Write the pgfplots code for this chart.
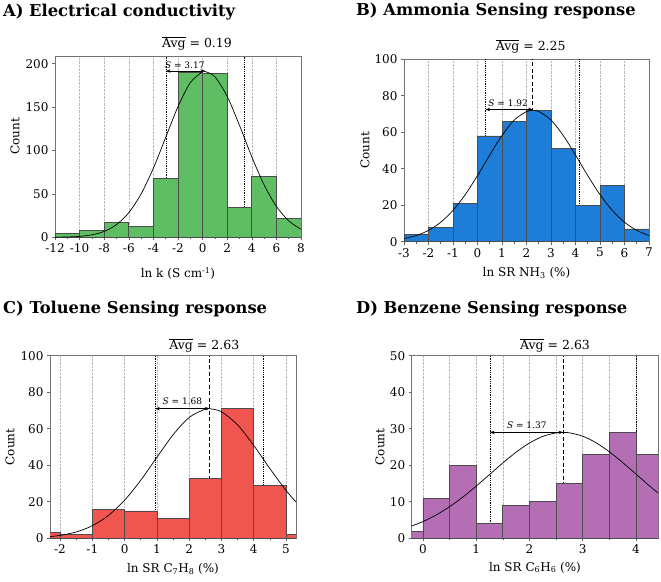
\documentclass[border=0pt]{standalone}
\usepackage{fontspec}
\setmainfont{DejaVu Serif}
\usepackage{pgfplots}
\pgfplotsset{compat=1.18}
\usetikzlibrary{arrows.meta}
\definecolor{cgreen}{RGB}{95,190,100}
\definecolor{cblue}{RGB}{30,125,215}
\definecolor{cred}{RGB}{240,85,80}
\definecolor{cpurple}{RGB}{180,110,180}
\pgfplotsset{
  hist/.style={
    scale only axis,
    clip mode=individual,
    axis line style={black!55, line width=0.8pt},
    tick align=outside, tick pos=left,
    major tick length=3pt, minor tick length=1.8pt,
    tick style={black!60, line width=0.6pt},
    ymin=0,
    xmajorgrids,
    major grid style={densely dotted, black!28, line width=0.5pt},
    minor grid style={densely dotted, black!28, line width=0.5pt},
    ticklabel style={font=\fontsize{12}{12}\selectfont},
    label style={font=\fontsize{12}{12}\selectfont},
    /pgf/number format/assume math mode=true,
    ylabel={Count},
  },
  bars/.style={ybar interval, draw=black!70, line width=0.7pt, fill=#1},
  sdot/.style={black, densely dotted, line width=0.8pt},
  mdash/.style={black, dash pattern=on 4pt off 2.5pt, line width=0.8pt},
  fitc/.style={black, smooth, line width=0.7pt},
  sarr/.style={black, line width=0.6pt, {Stealth[length=4.5pt,width=3.5pt]}-{Stealth[length=4.5pt,width=3.5pt]}},
}
\newcommand{\slab}{\fontsize{9}{9}\selectfont}
\newcommand{\avgfont}{\fontsize{12.5}{12.5}\selectfont}
\newcommand{\ttl}{\fontsize{16.3}{16.3}\selectfont\bfseries}
\begin{document}
\begin{tikzpicture}
\path[use as bounding box] (0,0) rectangle (661pt,-581pt);
\node[anchor=base west, font=\ttl, inner sep=0pt] at (3pt,-16pt) {A) Electrical conductivity};
\node[anchor=base west, font=\ttl, inner sep=0pt] at (356pt,-15pt) {B) Ammonia Sensing response};
\node[anchor=base west, font=\ttl, inner sep=0pt] at (3pt,-313pt) {C) Toluene Sensing response};
\node[anchor=base west, font=\ttl, inner sep=0pt] at (356pt,-313pt) {D) Benzene Sensing response};

% ---------- A ----------
\begin{axis}[hist, at={(55pt,-237.3pt)}, anchor=south west,
  width=246pt, height=180.6pt,
  xmin=-12, xmax=8, ymax=208,
  xtick={-12,-10,...,8}, ytick={0,50,...,200}, minor x tick num=1,
  xlabel={ln k (S cm\textsuperscript{-1})},
  ylabel style={at={(axis description cs:-0.163,0.56)}, anchor=center},
  xlabel style={at={(axis description cs:0.5,-0.2)}, anchor=center},
]
\addplot[sdot] coordinates {(-2.98,0) (-2.98,208)};
\addplot[sdot] coordinates {(3.36,0) (3.36,208)};
\addplot[bars=cgreen] coordinates {(-12,4) (-10,8) (-8,17) (-6,13) (-4,68) (-2,190) (0,189) (2,34) (4,70) (6,22) (8,22)};
\addplot[fitc] coordinates {(-12,0.12) (-11,0.38) (-10,1.09) (-9,2.86) (-8,6.79) (-7,14.59) (-6,28.39) (-5,50.0) (-4,79.7) (-3,115.1) (-2,150.5) (-1,178.0) (0,190.7) (0.19,191) (1,184.9) (2,162.3) (3,128.9) (4,92.7) (5,60.4) (6,35.6) (7,19.0) (8,9.18)};
\addplot[sarr] coordinates {(-2.98,191.5) (0.19,191.5)};
\node[anchor=base, font=\slab, yshift=3pt] at (axis cs:-1.45,191.5) {{\itshape S} = 3.17};
\node[anchor=base, font=\avgfont, yshift=9pt] at (axis cs:-0.46,208) {$\overline{\mbox{Avg}}$ = 0.19};
\end{axis}

% ---------- B ----------
\begin{axis}[hist, at={(404pt,-241.7pt)}, anchor=south west,
  width=245pt, height=182.4pt,
  xmin=-3, xmax=7, ymax=100,
  xtick={-3,...,7}, ytick={0,20,...,100}, minor x tick num=1,
  xlabel={ln SR NH\textsubscript{3} (\%)},
  ylabel style={at={(axis description cs:-0.159,0.5)}, anchor=center},
  xlabel style={at={(axis description cs:0.5,-0.173)}, anchor=center},
]
\addplot[sdot] coordinates {(0.33,0) (0.33,100)};
\addplot[sdot] coordinates {(4.17,0) (4.17,100)};
\addplot[mdash] coordinates {(2.25,0) (2.25,100)};
\addplot[bars=cblue] coordinates {(-3,4) (-2,8) (-1,21) (0,58) (1,66) (2,72) (3,51) (4,20) (5,31) (6,7) (7,7)};
\addplot[fitc] coordinates {(-3,1.71) (-2.5,3.37) (-2,6.21) (-1.5,10.69) (-1,17.18) (-0.5,25.81) (0,36.23) (0.5,47.53) (1,58.25) (1.5,66.71) (2,71.39) (2.25,72) (2.5,71.39) (3,66.71) (3.5,58.25) (4,47.53) (4.5,36.23) (5,25.81) (5.5,17.18) (6,10.69) (6.5,6.21) (7,3.37)};
\addplot[sarr] coordinates {(0.33,72.5) (2.25,72.5)};
\node[anchor=base, font=\slab, yshift=3pt] at (axis cs:1.25,72.5) {{\itshape S} = 1.92};
\node[anchor=base, font=\avgfont, yshift=9pt] at (axis cs:2.17,100) {$\overline{\mbox{Avg}}$ = 2.25};
\end{axis}

% ---------- C ----------
\begin{axis}[hist, at={(50pt,-538.3pt)}, anchor=south west,
  width=246pt, height=182.6pt,
  xmin=-2.31, xmax=5.31, ymax=100,
  xtick={-2,...,5}, ytick={0,20,...,100}, minor x tick num=1,
  xlabel={ln SR C\textsubscript{7}H\textsubscript{8} (\%)},
  ylabel style={at={(axis description cs:-0.163,0.5)}, anchor=center},
  xlabel style={at={(axis description cs:0.5,-0.17)}, anchor=center},
]
\addplot[sdot] coordinates {(0.95,0) (0.95,100)};
\addplot[sdot] coordinates {(4.31,0) (4.31,100)};
\addplot[mdash] coordinates {(2.63,0) (2.63,100)};
\addplot[bars=cred] coordinates {(-3,3) (-2,2) (-1,16) (0,15) (1,11) (2,33) (3,71) (4,29) (5,2) (6,2)};
\addplot[fitc] coordinates {(-2.31,0.94) (-2,1.59) (-1.5,3.46) (-1,6.88) (-0.5,12.52) (0,20.85) (0.5,31.78) (1,44.35) (1.5,56.63) (2,66.18) (2.5,70.79) (2.63,71) (3,69.30) (3.5,62.09) (4,50.92) (4.5,38.21) (5,26.25) (5.31,19.89)};
\addplot[sarr] coordinates {(0.95,71) (2.63,71)};
\node[anchor=base, font=\slab, yshift=4pt] at (axis cs:1.79,71) {{\itshape S} = 1.68};
\node[anchor=base, font=\avgfont, yshift=6.4pt] at (axis cs:2.47,100) {$\overline{\mbox{Avg}}$ = 2.63};
\end{axis}

% ---------- D ----------
\begin{axis}[hist, at={(411.7pt,-538.3pt)}, anchor=south west,
  width=246.6pt, height=182.6pt,
  xmin=-0.212, xmax=4.42, ymax=50,
  xtick={0,...,4}, ytick={0,10,...,50},
  minor xtick={-0.5,0.5,...,4.5}, xminorgrids,
  xlabel={ln SR C\textsubscript{6}H\textsubscript{6} (\%)},
  ylabel style={at={(axis description cs:-0.129,0.5)}, anchor=center},
  xlabel style={at={(axis description cs:0.5,-0.16)}, anchor=center},
]
\addplot[sdot] coordinates {(1.26,0) (1.26,50)};
\addplot[sdot] coordinates {(4.0,0) (4.0,50)};
\addplot[mdash] coordinates {(2.63,0) (2.63,50)};
\addplot[bars=cpurple] coordinates {(-0.5,2) (0,11) (0.5,20) (1,4) (1.5,9) (2,10) (2.5,15) (3,23) (3.5,29) (4,23) (4.5,23)};
\addplot[fitc] coordinates {(-0.21,3.38) (0,4.59) (0.25,6.41) (0.5,8.66) (0.75,11.31) (1,14.29) (1.25,17.46) (1.5,20.64) (1.75,23.59) (2,26.09) (2.25,27.91) (2.5,28.87) (2.63,29) (2.75,28.89) (3,27.96) (3.25,26.18) (3.5,23.70) (3.75,20.76) (4,17.59) (4.25,14.41) (4.42,12.35)};
\addplot[sarr] coordinates {(1.26,29) (2.63,29)};
\node[anchor=base, font=\slab, yshift=4pt] at (axis cs:1.95,29) {{\itshape S} = 1.37};
\node[anchor=base, font=\avgfont, yshift=6.4pt] at (axis cs:2.48,50) {$\overline{\mbox{Avg}}$ = 2.63};
\end{axis}
\end{tikzpicture}
\end{document}
